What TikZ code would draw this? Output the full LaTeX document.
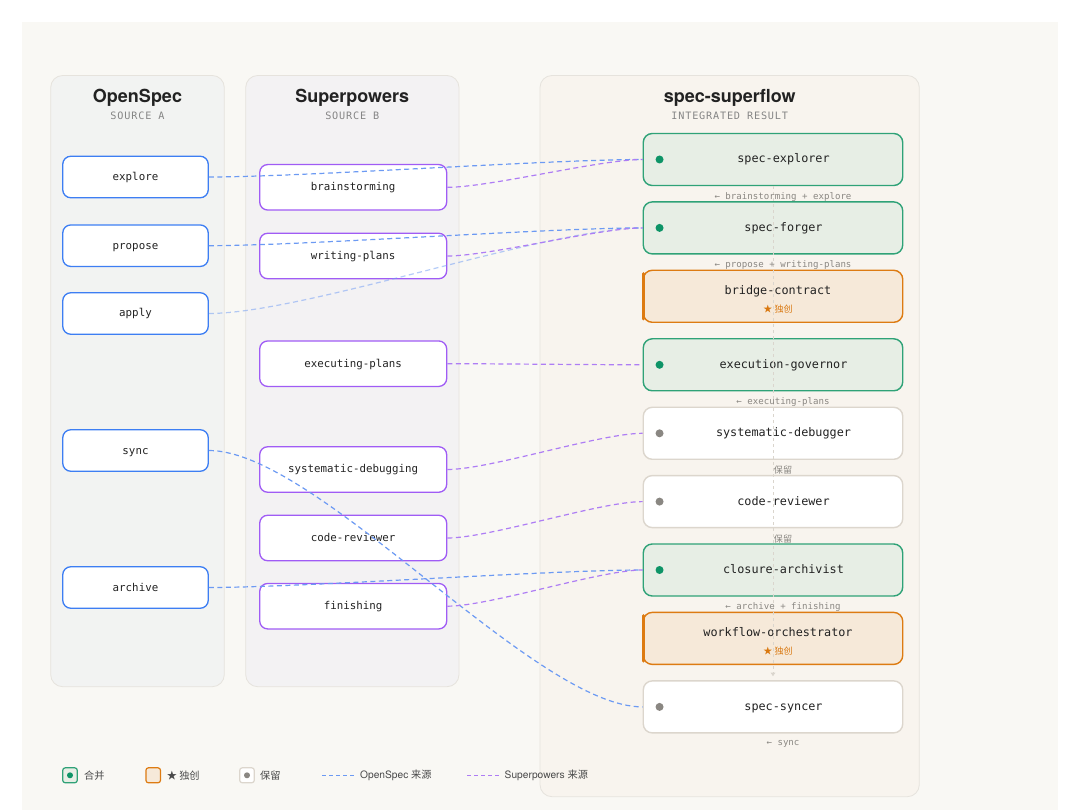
\documentclass[tikz,border=0pt]{standalone}
\usepackage{fontspec}
\setmainfont{TeX Gyre Heros}
\setmonofont{DejaVu Sans Mono}
\newfontfamily\cjk{Noto Sans CJK SC}
\usetikzlibrary{arrows.meta,calc}
\definecolor{canvas}{HTML}{F9F8F4}
\definecolor{panelA}{HTML}{F2F3F2}
\definecolor{panelB}{HTML}{F3F2F3}
\definecolor{panelC}{HTML}{F8F4EE}
\definecolor{panelLine}{HTML}{E6E3DD}
\definecolor{blueB}{HTML}{3D7EF3}
\definecolor{purpleB}{HTML}{A05CF5}
\definecolor{greenB}{HTML}{2FA277}
\definecolor{greenF}{HTML}{E7EEE5}
\definecolor{greenD}{HTML}{0E9467}
\definecolor{orangeB}{HTML}{DD7B12}
\definecolor{orangeF}{HTML}{F6E9D9}
\definecolor{orangeT}{HTML}{D9770E}
\definecolor{keptB}{HTML}{DCD6CD}
\definecolor{grayD}{HTML}{8A8782}
\definecolor{textD}{HTML}{222222}
\definecolor{labelG}{HTML}{8A8782}
\definecolor{subG}{HTML}{858585}
\definecolor{blueL}{HTML}{6C9AF3}
\definecolor{purpleL}{HTML}{AE7DF4}
\definecolor{vline}{HTML}{DAD5CD}
\definecolor{legT}{HTML}{4A4A4A}
\begin{document}
\begin{tikzpicture}[x=1pt,y=-1pt,
  panel/.style={draw=panelLine,line width=0.8pt,rounded corners=12pt},
  ptitle/.style={font=\bfseries\fontsize{18}{20}\selectfont,text=textD,inner sep=0pt},
  psub/.style={font=\ttfamily\fontsize{10.2}{12}\selectfont\addfontfeature{LetterSpace=8},text=subG,inner sep=0pt},
  mono/.style={text height=8pt,text depth=1pt},
  srcA/.style={draw=blueB,line width=1.3pt,fill=white,rounded corners=8pt,minimum width=145.5pt,minimum height=41.5pt,inner sep=0pt,font=\ttfamily\fontsize{10.8}{12}\selectfont,text=textD,mono},
  srcB/.style={draw=purpleB,line width=1.3pt,fill=white,rounded corners=8pt,minimum width=187pt,minimum height=45.5pt,inner sep=0pt,font=\ttfamily\fontsize{10.8}{12}\selectfont,text=textD,mono},
  rbox/.style={line width=1.4pt,rounded corners=9pt,minimum width=259.5pt,minimum height=52pt,inner sep=0pt,font=\ttfamily\fontsize{11.8}{14}\selectfont,text=textD,mono},
  merged/.style={rbox,draw=greenB,fill=greenF},
  unique/.style={rbox,draw=orangeB,fill=orangeF},
  kept/.style={rbox,draw=keptB,fill=white},
  rtext/.style={font=\ttfamily\fontsize{11.8}{14}\selectfont,text=textD,inner sep=0pt,mono},
  star/.style={font=\cjk\fontsize{9}{10}\selectfont,text=orangeT,inner sep=0pt},
  src/.style={font=\ttfamily\fontsize{9.1}{11}\selectfont,text=labelG,inner sep=0pt},
  srccjk/.style={font=\cjk\fontsize{9.1}{11}\selectfont,text=labelG,inner sep=0pt},
  bconn/.style={draw=blueL,line width=1.2pt,dash pattern=on 5pt off 3.5pt,out=0,in=180,looseness=0.55},
  pconn/.style={draw=purpleL,line width=1.2pt,dash pattern=on 5pt off 3.5pt,out=0,in=180,looseness=0.55},
  legtext/.style={font=\fontsize{10.2}{12}\selectfont,text=legT,inner sep=0pt,anchor=west},
  legicon/.style={line width=1.2pt,rounded corners=2.5pt,minimum width=14.5pt,minimum height=15pt,inner sep=0pt}
]
\useasboundingbox (0,0) rectangle (1080,810);
\fill[white] (0,0) rectangle (1080,810);
\fill[canvas] (22,22) rectangle (1058,810);

% panels
\draw[panel,fill=panelA] (50.7,75.5) rectangle (224.3,686.7);
\draw[panel,fill=panelB] (245.7,75.5) rectangle (459,686.7);
\draw[panel,fill=panelC] (540,75.5) rectangle (919.3,796.7);

\node[ptitle] (tA) at (137.5,98) {OpenSpec};
\node[psub] (sA) at (137.5,116) {SOURCE A};
\node[ptitle] (tB) at (352.3,98) {Superpowers};
\node[psub] (sB) at (352.3,116) {SOURCE B};
\node[ptitle] (tC) at (729.7,98) {spec-superflow};
\node[psub] (sC) at (729.7,116) {INTEGRATED RESULT};

% OpenSpec boxes
\node[srcA] (explore) at (135.5,177) {explore};
\node[srcA] (propose) at (135.5,245.7) {propose};
\node[srcA] (apply) at (135.5,313.5) {apply};
\node[srcA] (sync) at (135.5,450.5) {sync};
\node[srcA] (archive) at (135.5,587.5) {archive};

% Superpowers boxes
\node[srcB] (brain) at (353.2,187.3) {brainstorming};
\node[srcB] (wplans) at (353.2,256) {writing-plans};
\node[srcB] (eplans) at (353.2,363.7) {executing-plans};
\node[srcB] (sysdbg) at (353.2,469.5) {systematic-debugging};
\node[srcB] (crev) at (353.2,538) {code-reviewer};
\node[srcB] (finish) at (353.2,606.2) {finishing};

% integrated boxes
\node[merged] (r1) at (773,159.5) {\hspace*{21pt}spec-explorer};
\node[merged] (r2) at (773,227.9) {\hspace*{21pt}spec-forger};
\node[unique] (r3) at (773,296.3) {};
\node[merged] (r4) at (773,364.8) {\hspace*{21pt}execution-governor};
\node[kept]   (r5) at (773,433.3) {\hspace*{21pt}systematic-debugger};
\node[kept]   (r6) at (773,501.6) {\hspace*{21pt}code-reviewer};
\node[merged] (r7) at (773,570) {\hspace*{21pt}closure-archivist};
\node[unique] (r8) at (773,638.4) {};
\node[kept]   (r9) at (773,706.9) {\hspace*{21pt}spec-syncer};

% orange left bars
\foreach \b in {r3,r8}{
  \draw[orangeB,line width=3pt,line cap=round] ([xshift=1.3pt,yshift=-4pt]\b.north west) -- ([xshift=1.3pt,yshift=4pt]\b.south west);
}
\node[rtext] (r3t) at ($(r3.center)+(5,-5)$) {bridge-contract};
\node[star] (r3s) at ($(r3.center)+(5,12.3)$) {★ 独创};
\node[rtext] (r8t) at ($(r8.center)+(5,-5)$) {workflow-orchestrator};
\node[star] (r8s) at ($(r8.center)+(5,12.3)$) {★ 独创};

% dots
\foreach \b in {r1,r2,r4,r7}{\fill[greenD] ([xshift=17pt]\b.west) circle (4pt);}
\foreach \b in {r5,r6,r9}{\fill[grayD] ([xshift=17pt]\b.west) circle (4pt);}

% centre flow line
\draw[vline,line width=0.9pt,dash pattern=on 3pt off 3pt,-{Triangle[width=4.5pt,length=3.5pt]},shorten >=4pt] (r1.south) -- (r9.north);

% source labels
\node[src] (l1) at ($(r1.south)+(10,10.5)$) {← brainstorming + explore};
\node[src] (l2) at ($(r2.south)+(10,10.5)$) {← propose + writing-plans};
\node[src] (l4) at ($(r4.south)+(10,10.5)$) {← executing-plans};
\node[srccjk] (l5) at ($(r5.south)+(10,10.5)$) {保留};
\node[srccjk] (l6) at ($(r6.south)+(10,10.5)$) {保留};
\node[src] (l7) at ($(r7.south)+(10,10.5)$) {← archive + finishing};
\node[src] (l9) at ($(r9.south)+(10,10.5)$) {← sync};

% connectors
\draw[bconn] (explore.east) to (r1.west);
\draw[bconn] (propose.east) to (r2.west);
\draw[bconn,draw opacity=0.5] (apply.east) to (r2.west);
\draw[bconn] (sync.east) to (r9.west);
\draw[bconn] (archive.east) to (r7.west);
\draw[pconn] (brain.east) to (r1.west);
\draw[pconn] (wplans.east) to (r2.west);
\draw[pconn] (eplans.east) to (r4.west);
\draw[pconn] (sysdbg.east) to (r5.west);
\draw[pconn] (crev.east) to (r6.west);
\draw[pconn] (finish.east) to (r7.west);

% legend
\node[legicon,draw=greenB,fill=greenF] (g1) at (70,775.3) {};
\fill[greenD] (g1.center) circle (3pt);
\node[legtext,font=\cjk\fontsize{10.2}{12}\selectfont] (g1t) at (84,775.3) {合并};
\node[legicon,draw=orangeB,fill=orangeF] (g2) at (153.2,775.3) {};
\node[legtext,font=\cjk\fontsize{10.2}{12}\selectfont] (g2t) at (166.6,775.3) {★ 独创};
\node[legicon,draw=keptB,fill=white] (g3) at (247,775.3) {};
\fill[grayD] (g3.center) circle (3pt);
\node[legtext,font=\cjk\fontsize{10.2}{12}\selectfont] (g3t) at (260,775.3) {保留};
\coordinate (d1a) at (322,775.3);
\coordinate (d1b) at (354,775.3);
\draw[blueL,line width=1.1pt,dash pattern=on 4pt off 3pt] (d1a) -- (d1b);
\node[legtext] (g4t) at (360,775.3) {OpenSpec {\cjk 来源}};
\coordinate (d2a) at (467,775.3);
\coordinate (d2b) at (499,775.3);
\draw[purpleL,line width=1.1pt,dash pattern=on 4pt off 3pt] (d2a) -- (d2b);
\node[legtext] (g5t) at (504.5,775.3) {Superpowers {\cjk 来源}};
\end{tikzpicture}
\end{document}
